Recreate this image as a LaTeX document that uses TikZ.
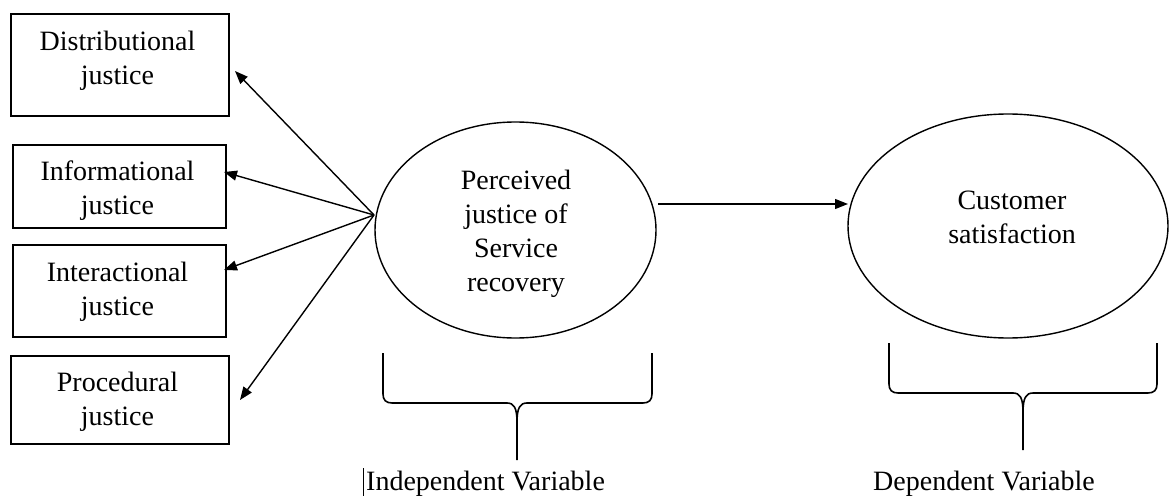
\documentclass[tikz,border=0pt]{standalone}
\usepackage{fontspec}
\setmainfont{Liberation Serif}
\usetikzlibrary{arrows.meta,shapes.geometric}
\begin{document}
\begin{tikzpicture}[x=1pt,y=-1pt,
  txt/.style={font=\fontsize{28}{34}\selectfont, align=center, inner sep=0pt},
  box/.style={draw, line width=1.5pt, inner sep=0pt},
  ell/.style={draw, ellipse, line width=1.4pt, inner sep=0pt},
  arr/.style={-{Triangle[length=13pt,width=10pt]}, line width=1.4pt},
  brace/.style={line width=1.6pt, line join=round}]
\useasboundingbox (0,0) rectangle (1169,497);

% boxes
\node[box, minimum width=218pt, minimum height=102pt] (b1) at (120,65) {};
\node[box, minimum width=213pt, minimum height=83pt] (b2) at (119.5,186.5) {};
\node[box, minimum width=213pt, minimum height=92pt] (b3) at (119.5,291) {};
\node[box, minimum width=218pt, minimum height=88pt] (b4) at (120,400) {};
\node[txt] (l1) at (117.5,61) {Distributional\\justice};
\node[txt] (l2) at (117.5,191) {Informational\\justice};
\node[txt] (l3) at (117.5,292) {Interactional\\justice};
\node[txt] (l4) at (117.5,402) {Procedural\\justice};

% ellipses
\node[ell, minimum width=281pt, minimum height=216pt] (p) at (515.5,230) {};
\node[txt] (pl) at (516,234) {Perceived\\justice of\\Service\\recovery};
\node[ell, minimum width=320pt, minimum height=224pt] (c) at (1008,226) {};
\node[txt] (cl) at (1012,217) {Customer\\satisfaction};

% arrows
\coordinate (o) at (374,215);
\coordinate (t1) at (235,71);
\coordinate (t2) at (224,172);
\coordinate (t3) at (224,270);
\coordinate (t4) at (240,400);
\draw[arr] (o) -- (t1);
\draw[arr] (o) -- (t2);
\draw[arr] (o) -- (t3);
\draw[arr] (o) -- (t4);
\coordinate (s) at (658,204);
\coordinate (e) at (848,204);
\draw[arr] (s) -- (e);

% braces
\draw[brace] (383,353) -- (383,394) .. controls (383,400) and (386,403) .. (392,403)
  -- (507,403) .. controls (514,403) and (517,408) .. (517,422) -- (517,460);
\draw[brace] (652,353) -- (652,394) .. controls (652,400) and (649,403) .. (643,403)
  -- (527,403) .. controls (520,403) and (517,408) .. (517,422);
\draw[brace] (889,343) -- (889,384) .. controls (889,390) and (892,393) .. (898,393)
  -- (1013,393) .. controls (1020,393) and (1023,398) .. (1023,412) -- (1023,450);
\draw[brace] (1157,343) -- (1157,384) .. controls (1157,390) and (1154,393) .. (1148,393)
  -- (1033,393) .. controls (1026,393) and (1023,398) .. (1023,412);

% labels
\draw[line width=0.9pt] (363,468) -- (363,496);
\node[txt, anchor=base west] (iv) at (366,490) {Independent Variable};
\node[txt, anchor=base west] (dv) at (873,490) {Dependent Variable};
\end{tikzpicture}
\end{document}
